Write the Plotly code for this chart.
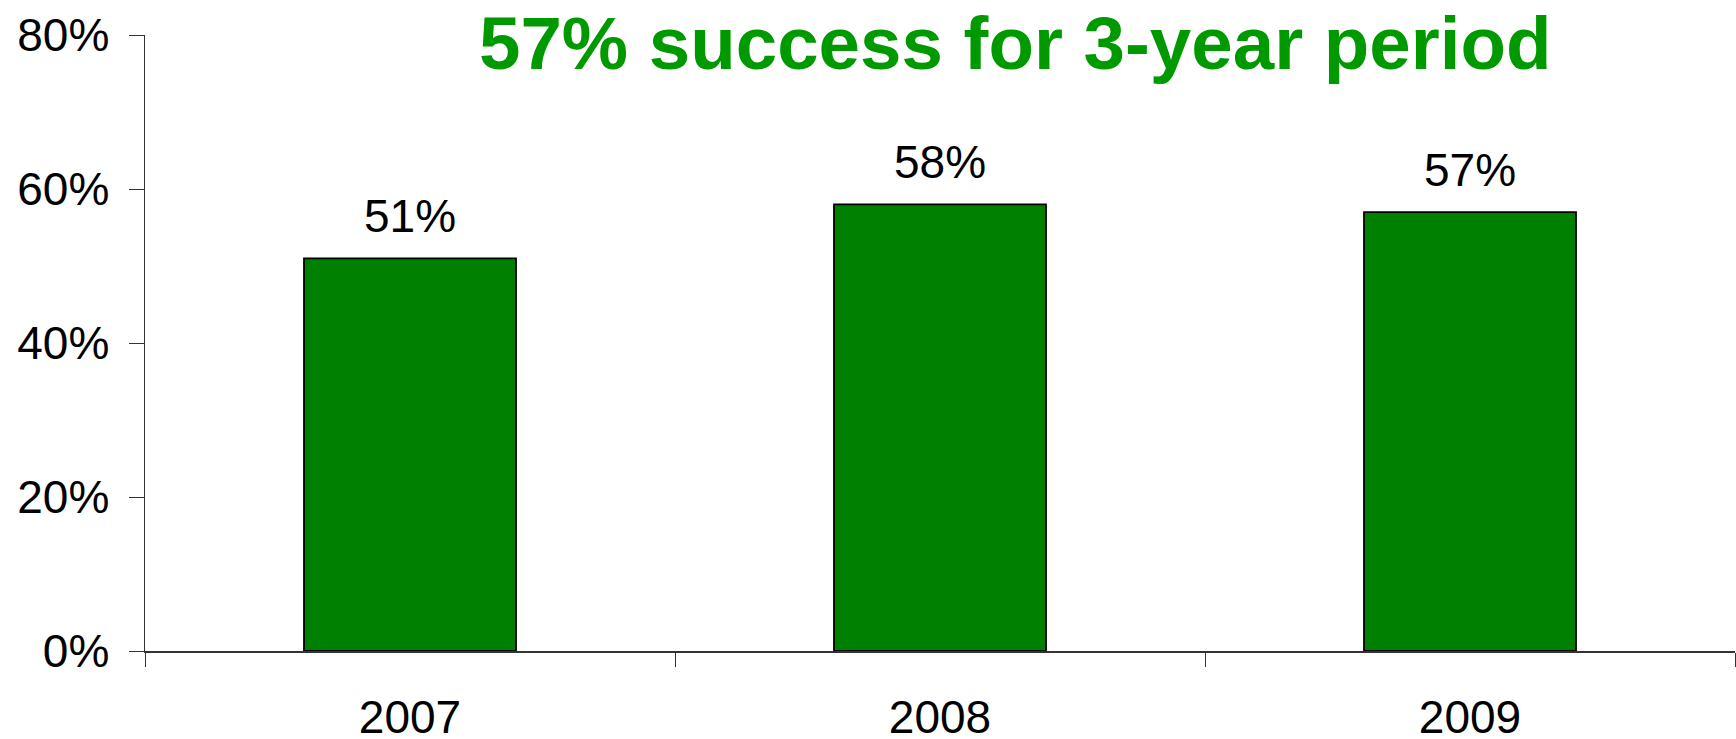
import plotly.graph_objects as go

years = ["2007", "2008", "2009"]
success = [51, 58, 57]
labels = ["51%", "58%", "57%"]
y_ticks = [0, 20, 40, 60, 80]
y_tick_labels = ["0%", "20%", "40%", "60%", "80%"]
title_text = "57% success for 3-year period"

FONT = "Liberation Sans, Arial, sans-serif"

fig = go.Figure()
fig.add_trace(go.Bar(
    x=years, y=success,
    marker=dict(color="#008000", line=dict(color="#000000", width=1.8)),
    width=0.4,
    hoverinfo="skip",
))

for i, (v, lab) in enumerate(zip(success, labels)):
    fig.add_annotation(x=i, y=v, text=lab, showarrow=False,
                       xref="x", yref="y", yanchor="bottom", yshift=14,
                       font=dict(family=FONT, size=46, color="#000000"))

fig.add_annotation(text="<b>" + title_text + "</b>", showarrow=False,
                   xref="paper", yref="paper", x=0.5473, y=1.0,
                   xanchor="center", yanchor="middle", yshift=-8,
                   font=dict(family=FONT, size=74.5, color="#009900"))

fig.update_layout(
    width=1736, height=739, autosize=False,
    margin=dict(l=145, r=1, t=35, b=88, pad=0, autoexpand=False),
    paper_bgcolor="#ffffff", plot_bgcolor="#ffffff",
    showlegend=False,
    font=dict(family=FONT, size=46, color="#000000"),
)
fig.update_xaxes(
    type="category", range=[-0.5, 2.5], automargin=False,
    showline=True, linecolor="#333333", linewidth=1.5,
    ticks="outside", tickson="boundaries", ticklen=14, tickwidth=1, tickcolor="#333333",
    showgrid=False, zeroline=False,
    tickfont=dict(family=FONT, size=46, color="#000000"),
    ticklabelstandoff=25,
)
fig.update_yaxes(
    range=[0, 80], tickmode="array", tickvals=y_ticks, ticktext=y_tick_labels,
    automargin=False,
    showline=True, linecolor="#333333", linewidth=1.5,
    ticks="outside", ticklen=15, tickwidth=1, tickcolor="#333333",
    showgrid=False, zeroline=False,
    tickfont=dict(family=FONT, size=46, color="#000000"),
    ticklabelstandoff=10,
)

fig.write_html(
    "out.html",
    config={"displayModeBar": False, "staticPlot": True},
    post_script="document.body.style.margin='0';document.body.style.overflow='hidden';",
)
